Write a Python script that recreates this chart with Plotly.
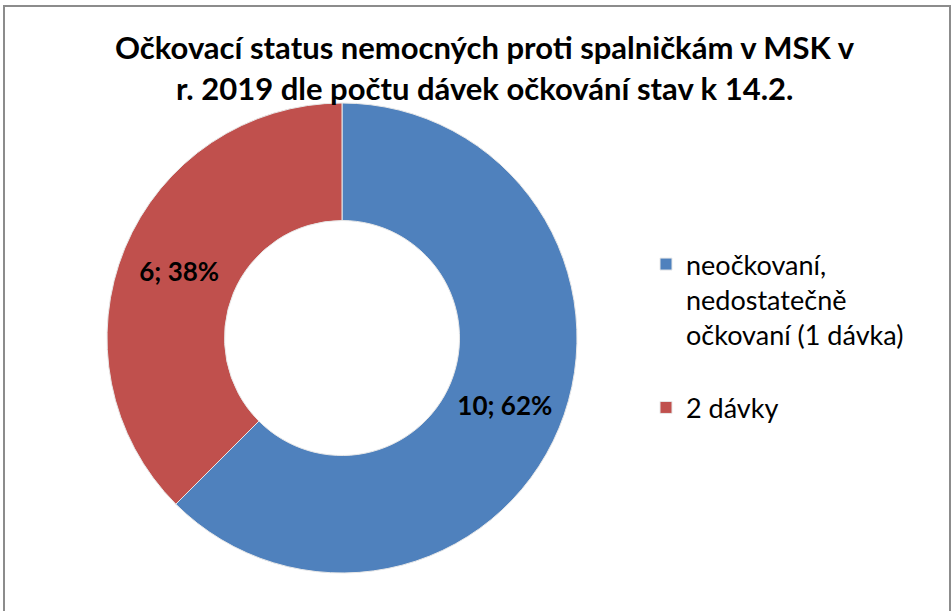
import plotly.graph_objects as go

labels = ["neočkovaní,<br>nedostatečně<br>očkovaní (1 dávka)<br> ", "2 dávky"]
values = [10, 6]
percent_labels = ["62%", "38%"]
colors = ["#4F81BD", "#C0504D"]
title_lines = ["Očkovací status nemocných proti spalničkám v MSK v",
               "r. 2019 dle počtu dávek očkování stav k 14.2."]

W, H = 952, 611
cx, cy, r = 342, 338, 235
FONT = "Lato"

fig = go.Figure(go.Pie(
    labels=labels, values=values, hole=0.5, sort=False, direction="clockwise",
    rotation=0, customdata=percent_labels,
    marker=dict(colors=colors, line=dict(color="#E8E8E8", width=1)),
    texttemplate="%{value}; %{customdata}",
    textposition="inside", insidetextorientation="horizontal",
    textfont=dict(family=FONT, size=26, color="black", weight="bold"),
    domain=dict(x=[(cx - r) / W, (cx + r) / W], y=[(H - cy - r) / H, (H - cy + r) / H]),
))

fig.update_layout(
    width=W, height=H, margin=dict(l=0, r=0, t=0, b=0),
    paper_bgcolor="white", plot_bgcolor="white",
    showlegend=True,
    legend=dict(x=646 / W, y=1 - 240 / H, xanchor="left", yanchor="top", valign="top",
                font=dict(family=FONT, size=27, color="black"),
                itemwidth=30, bgcolor="rgba(0,0,0,0)"),
    annotations=[
        dict(text=f"<b>{title_lines[0]}</b>", x=485 / W, y=1 - 47 / H, xref="paper", yref="paper",
             xanchor="center", yanchor="middle",
             showarrow=False, font=dict(family=FONT, size=31, color="black")),
        dict(text=f"<b>{title_lines[1]}</b>", x=485 / W, y=1 - 88 / H, xref="paper", yref="paper",
             xanchor="center", yanchor="middle",
             showarrow=False, font=dict(family=FONT, size=31, color="black")),
    ],
    shapes=[
        dict(type="rect", xref="paper", yref="paper", x0=4 / W, x1=950 / W,
             y0=-0.05, y1=1 - 6 / H, line=dict(color="#8C8C8C", width=2)),
    ],
)

fig.write_html("out.html", config={"displayModeBar": False},
               post_script="document.body.style.margin='0';")
